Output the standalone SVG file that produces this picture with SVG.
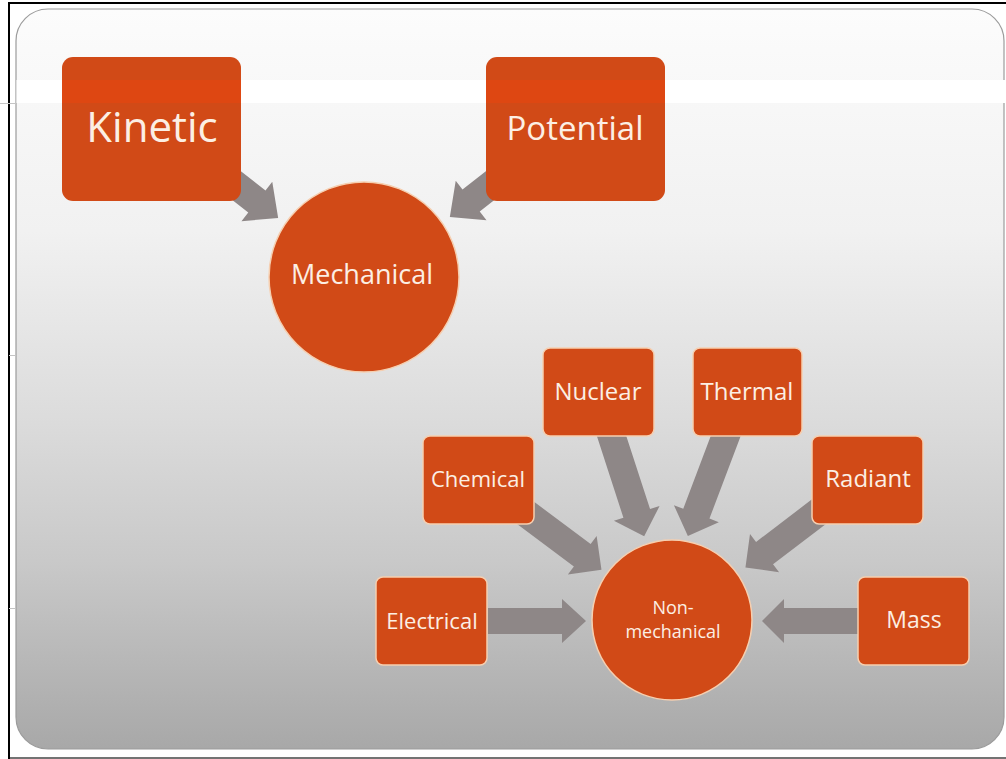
<svg xmlns="http://www.w3.org/2000/svg" width="1006" height="759" viewBox="0 0 1006 759">
  <defs>
    <linearGradient id="slideFill" x1="0" y1="0" x2="0" y2="1">
      <stop offset="0" stop-color="#fcfcfc"/>
      <stop offset="0.3" stop-color="#f1f1f1"/>
      <stop offset="0.55" stop-color="#dcdcdc"/>
      <stop offset="0.745" stop-color="#c9c9c9"/>
      <stop offset="1" stop-color="#a8a8a8"/>
    </linearGradient>
  </defs>
  <style>
    .box { fill: #d14a17; }
    .edge { stroke: #f6cfb0; stroke-width: 1.5; }
    .band { fill: #de4712; }
    .arrow { fill: #8e8787; }
    .lbl { font-family: "Open Sans", "Noto Sans", "DejaVu Sans", sans-serif; fill: #fcefe4; text-anchor: middle; }
  </style>

  <!-- page and frame -->
  <rect x="0" y="0" width="1006" height="759" fill="#ffffff"/>
  <rect x="9" y="3" width="1010" height="755" fill="none" stroke="#000000" stroke-width="2"/>
  <line x1="10" y1="758" x2="1006" y2="758" stroke="#9a9a9a" stroke-width="1.5"/>
  <rect x="16" y="9" width="988" height="740" rx="32" ry="32" fill="url(#slideFill)" stroke="#9c9c9c" stroke-width="1.2"/>
  <rect x="16.5" y="80" width="989" height="23" fill="#ffffff"/>
  <line x1="0" y1="103.5" x2="16" y2="103.5" stroke="#c4c4c4" stroke-width="1"/>
  <line x1="9" y1="355.5" x2="16" y2="355.5" stroke="#c4c4c4" stroke-width="1"/>
  <line x1="9" y1="608.5" x2="16" y2="608.5" stroke="#c4c4c4" stroke-width="1"/>

  <!-- block arrows: each drawn pointing along +x from its tail, then placed -->
  <g id="connectors">
    <path class="arrow" d="M0,-14 L43,-14 L43,-25 L70,0 L43,25 L43,14 L0,14 Z" transform="translate(223,175) rotate(38)"/>
    <path class="arrow" d="M0,-14 L43,-14 L43,-25 L70,0 L43,25 L43,14 L0,14 Z" transform="translate(505,174) rotate(142)"/>
    <path class="arrow" d="M0,-14 L84,-14 L84,-24 L108,0 L84,24 L84,14 L0,14 Z" transform="translate(515,505) rotate(36.8)"/>
    <path class="arrow" d="M0,-14 L93,-14 L93,-24 L117,0 L93,24 L93,14 L0,14 Z" transform="translate(608,425) rotate(72)"/>
    <path class="arrow" d="M0,-14 L98,-14 L98,-24 L122,0 L98,24 L98,14 L0,14 Z" transform="translate(731,422) rotate(110.7)"/>
    <path class="arrow" d="M0,-14 L76,-14 L76,-24 L100,0 L76,24 L76,14 L0,14 Z" transform="translate(825,507) rotate(142.7)"/>
    <path class="arrow" d="M0,-13 L74,-13 L74,-22 L98,0 L74,22 L74,13 L0,13 Z" transform="translate(488,621)"/>
    <path class="arrow" d="M0,-13 L74,-13 L74,-22 L96,0 L74,22 L74,13 L0,13 Z" transform="translate(858,621) rotate(180)"/>
  </g>

  <g id="kinetic">
    <rect class="box" x="62" y="57" width="179" height="144" rx="11"/>
    <rect class="band" x="62" y="80" width="179" height="23"/>
    <text class="lbl" x="152" y="142" font-size="42">Kinetic</text>
  </g>

  <g id="potential">
    <rect class="box" x="486" y="57" width="179" height="144" rx="11"/>
    <rect class="band" x="486" y="80" width="179" height="23"/>
    <text class="lbl" x="575" y="140" font-size="33">Potential</text>
  </g>

  <g id="mechanical">
    <circle class="box edge" cx="364" cy="277" r="95"/>
    <text class="lbl" x="362" y="284" font-size="27">Mechanical</text>
  </g>

  <g id="nuclear">
    <rect class="box edge" x="543" y="348" width="111" height="88" rx="7"/>
    <text class="lbl" x="598" y="400" font-size="24">Nuclear</text>
  </g>

  <g id="thermal">
    <rect class="box edge" x="693" y="348" width="109" height="88" rx="7"/>
    <text class="lbl" x="747" y="400" font-size="24">Thermal</text>
  </g>

  <g id="chemical">
    <rect class="box edge" x="423" y="436" width="111" height="88" rx="7"/>
    <text class="lbl" x="478" y="487" font-size="22">Chemical</text>
  </g>

  <g id="radiant">
    <rect class="box edge" x="812" y="436" width="111" height="88" rx="7"/>
    <text class="lbl" x="868" y="487" font-size="24">Radiant</text>
  </g>

  <g id="electrical">
    <rect class="box edge" x="376" y="577" width="111" height="88" rx="7"/>
    <text class="lbl" x="432" y="629" font-size="22">Electrical</text>
  </g>

  <g id="mass">
    <rect class="box edge" x="858" y="577" width="111" height="88" rx="7"/>
    <text class="lbl" x="914" y="628" font-size="23">Mass</text>
  </g>

  <g id="non-mechanical">
    <circle class="box edge" cx="672" cy="620" r="80"/>
    <text class="lbl" x="673" y="614" font-size="18">Non-</text>
    <text class="lbl" x="673" y="638" font-size="18">mechanical</text>
  </g>
</svg>
